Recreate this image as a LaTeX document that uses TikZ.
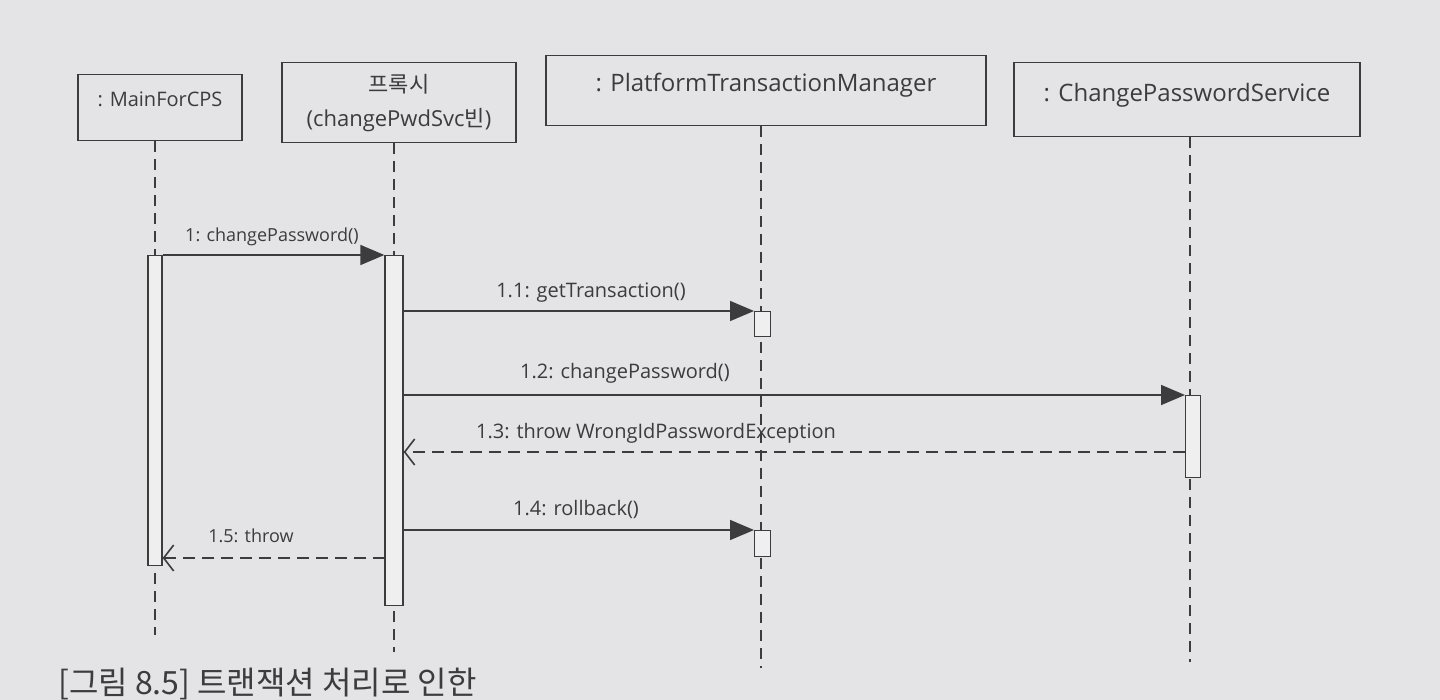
\documentclass[tikz,border=0pt]{standalone}
\usepackage{fontspec}
\setmainfont{Open Sans}
\newfontfamily\kr{Noto Sans CJK KR}
\usetikzlibrary{arrows.meta}
\definecolor{paper}{HTML}{E4E4E6}
\definecolor{ink}{HTML}{3C3C3E}
\tikzset{
  obj/.style={draw=ink, line width=1.3pt, text=ink, align=center, inner sep=0pt},
  lifeline/.style={draw=ink, line width=1.4pt, dash pattern=on 11pt off 7pt},
  actbar/.style={draw=ink, line width=1.3pt, fill=paper!60!white, inner sep=0pt},
  call/.style={draw=ink, line width=1.6pt, -{Triangle[length=24pt,width=20pt]}},
  ret/.style={draw=ink, line width=1.6pt, dash pattern=on 12pt off 7pt, -{Straight Barb[length=10pt,width=26pt]}},
  lbl/.style={text=ink, inner sep=0pt, font=\fontsize{20}{24}\selectfont},
  hdr/.style={font=\fontsize{24}{30}\selectfont},
}
\begin{document}
\begin{tikzpicture}[x=1pt,y=-1pt]
\useasboundingbox (0,0) rectangle (1440,700);
\fill[paper] (0,0) rectangle (1440,700);
\clip (0,0) rectangle (1440,700);

% object boxes
\node[obj, hdr, minimum width=164pt, minimum height=66pt, anchor=north] (mb) at (160,74)
  {\raisebox{16pt}{\fontsize{20}{24}\selectfont : MainForCPS}};
\node[obj, hdr, minimum width=234pt, minimum height=80pt, anchor=north] (pb) at (399,62)
  {{\kr\fontsize{22}{26}\selectfont 프록시}\\[4pt]\fontsize{22}{26}\selectfont (changePwdSvc{\kr 빈})};
\node[obj, hdr, minimum width=440pt, minimum height=70pt, anchor=north] (tb) at (766,55)
  {\raisebox{16pt}{: PlatformTransactionManager}};
\node[obj, hdr, minimum width=346pt, minimum height=74pt, anchor=north] (sb) at (1187,62)
  {\raisebox{14pt}{: ChangePasswordService}};

% lifeline ends
\coordinate (me) at (155,635);
\coordinate (pe) at (394,652);
\coordinate (te) at (761,668);
\coordinate (se) at (1190,662);
\draw[lifeline] (mb.south -| me) -- (me);
\draw[lifeline] (pb.south -| pe) -- (pe);
\draw[lifeline] (tb.south -| te) -- (te);
\draw[lifeline] (sb.south -| se) -- (se);

% activation bars
\node[actbar, minimum width=14pt, minimum height=310pt, anchor=north] (ma) at (155,255) {};
\node[actbar, minimum width=18pt, minimum height=350pt, anchor=north] (pa) at (394,255) {};
\node[actbar, minimum width=16pt, minimum height=25pt, anchor=north west] (t1) at (754,311) {};
\node[actbar, minimum width=16pt, minimum height=26pt, anchor=north west] (t2) at (754,530) {};
\node[actbar, minimum width=15pt, minimum height=82pt, anchor=north west] (sa) at (1185,395) {};

% messages
\draw[call] (ma.north east) -- (pa.north west);
\node[lbl, font=\fontsize{18}{22}\selectfont] (l1) at (272,237) {1: changePassword()};

\draw[call] (pa.east |- t1.north) -- (t1.north west);
\node[lbl] (l11) at (591,293) {1.1: getTransaction()};

\draw[call] (pa.east |- sa.north) -- (sa.north west);
\node[lbl] (l12) at (625,373) {1.2: changePassword()};

\coordinate (r3) at (1185,452);
\draw[ret] (r3) -- (pa.east |- r3);
\node[lbl] (l13) at (656,433) {1.3: throw WrongIdPasswordException};

\draw[call] (pa.east |- t2.north) -- (t2.north west);
\node[lbl] (l14) at (576,509) {1.4: rollback()};

\coordinate (r5) at (385,558);
\draw[ret] (r5) -- (ma.east |- r5);
\node[lbl, font=\fontsize{18}{22}\selectfont] (l15) at (251,536) {1.5: throw};

% caption (at the bottom edge of the page)
\node[anchor=base west, text=ink, inner sep=0pt, font=\kr\fontsize{32}{40}\selectfont] (cap) at (58,694) {[그림 8.5] 트랜잭션 처리로 인한};
\end{tikzpicture}
\end{document}
